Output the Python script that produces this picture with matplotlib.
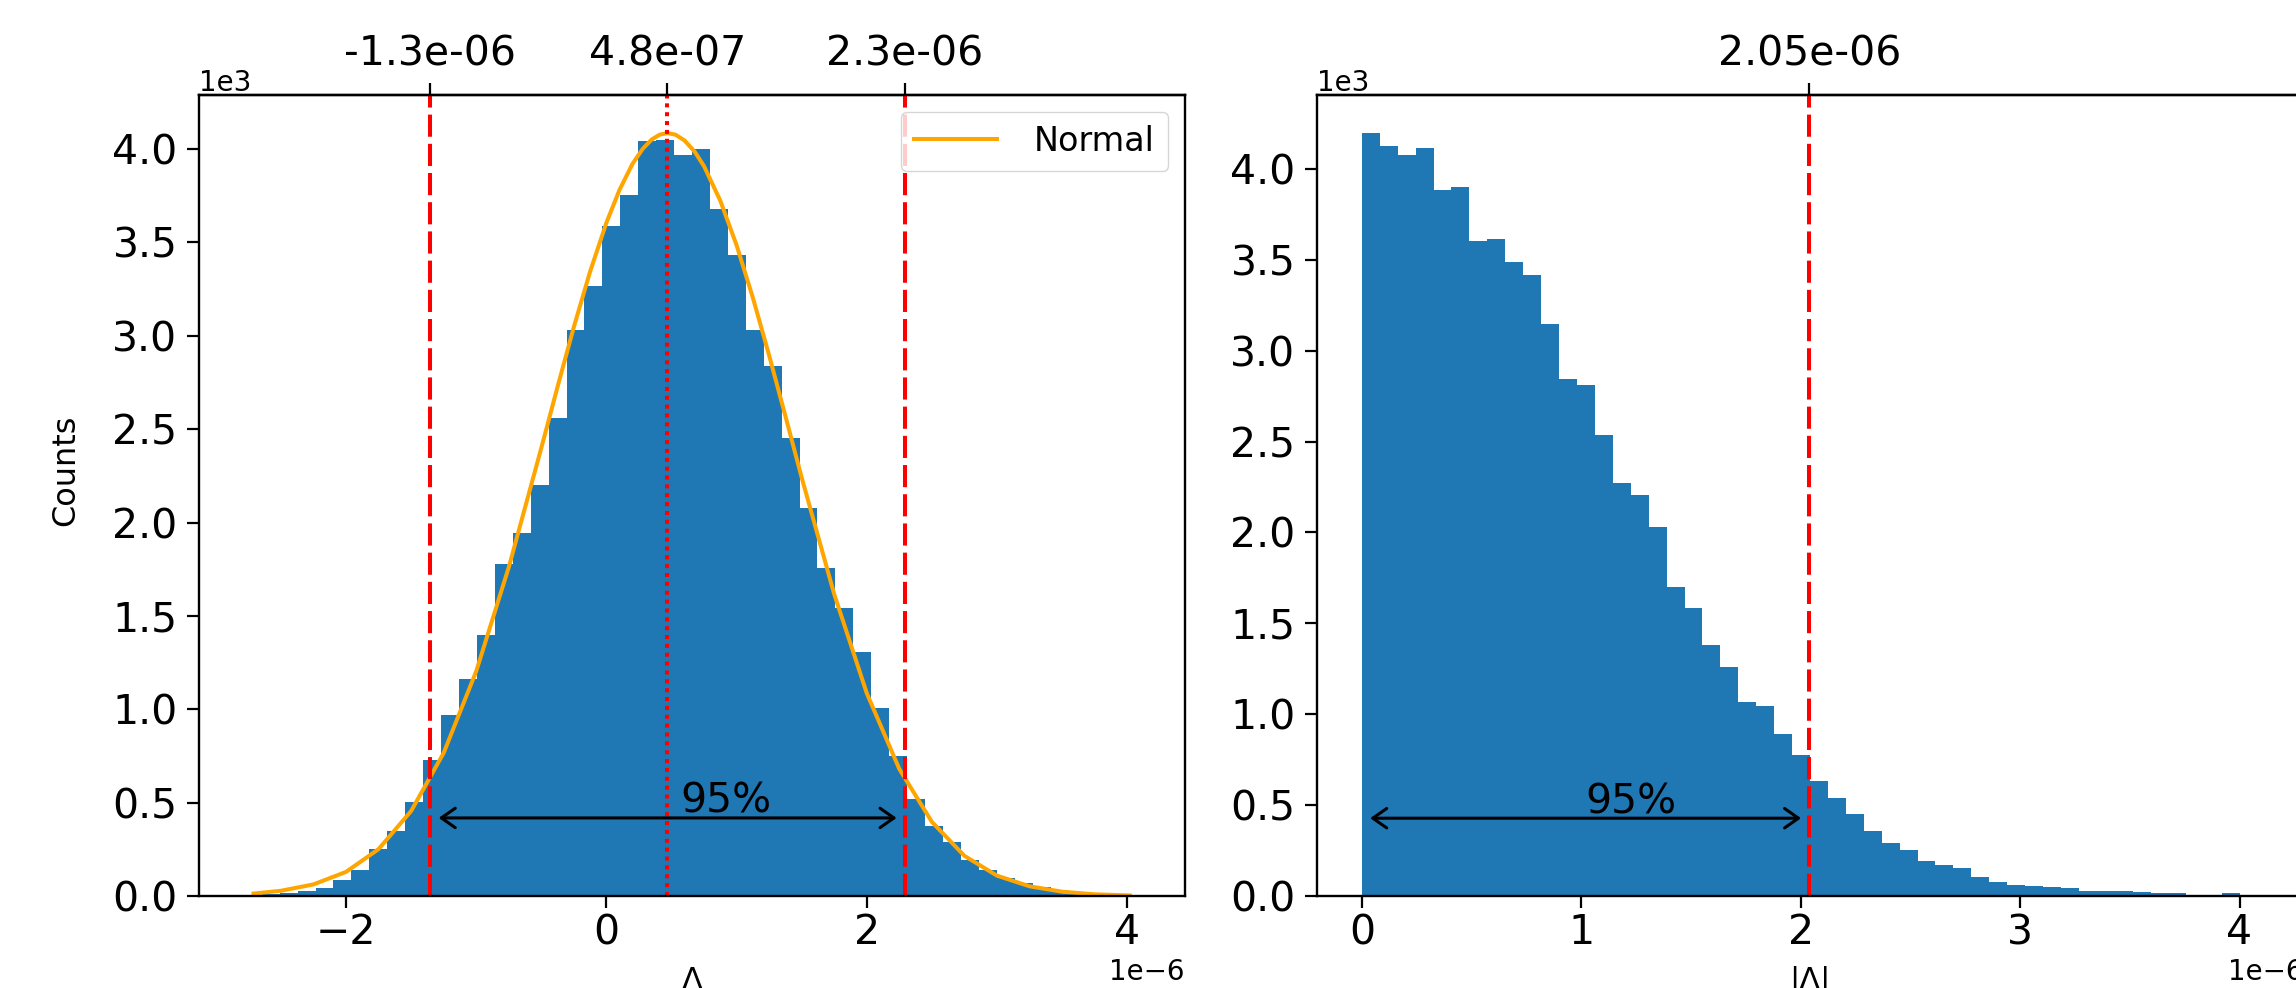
import numpy as np
import matplotlib
matplotlib.use("Agg")
import matplotlib.pyplot as plt
from matplotlib.ticker import MultipleLocator

# values are in units of 1e-6, scaled when plotting
scale = 1e-6

# signed Lambda histogram: 50 equal bins between lam_lo and lam_hi
lam_lo, lam_hi = -2.785, 4.10
lam_counts = [4, 9, 17, 28, 43, 85, 140, 251, 347, 505,
              726, 970, 1163, 1398, 1780, 1943, 2201, 2560, 3030, 3266,
              3589, 3755, 4045, 4050, 3970, 4000, 3680, 3432, 3030, 2837,
              2450, 2076, 1758, 1542, 1307, 1006, 748, 519, 375, 287,
              195, 140, 98, 70, 48, 30, 20, 12, 7, 4]

# orange "Normal" curve
normal_x = [-2.71, -2.5, -2.25, -2.0, -1.75, -1.5, -1.25, -1.0, -0.75, -0.5,
            -0.375, -0.25, -0.125, 0.0, 0.1, 0.2, 0.28, 0.35, 0.41, 0.47,
            0.53, 0.6, 0.68, 0.75, 0.875, 1.0, 1.125, 1.25, 1.375, 1.5,
            1.75, 2.0, 2.25, 2.5, 2.75, 3.0, 3.25, 3.5, 3.75, 4.02]
normal_y = [13, 28, 62, 129, 251, 455, 766, 1203, 1760, 2399,
            2727, 3047, 3344, 3605, 3780, 3920, 4002, 4052, 4077, 4085,
            4077, 4046, 3984, 3908, 3723, 3485, 3204, 2895, 2570, 2241,
            1616, 1086, 680, 397, 215, 109, 52, 23, 9, 3]

# interval lines (left plot)
lam_q = [-1.352, 0.469, 2.293]
lam_q_labels = ["-1.3e-06", "4.8e-07", "2.3e-06"]

# |Lambda| histogram: 50 equal bins between 0 and abs_hi
abs_hi = 4.085
abs_counts = [4197, 4126, 4075, 4117, 3882, 3899, 3601, 3612, 3487, 3416,
              3147, 2846, 2812, 2536, 2273, 2207, 2031, 1699, 1583, 1379,
              1259, 1066, 1044, 890, 777, 632, 541, 450, 357, 291,
              252, 195, 172, 152, 107, 78, 60, 53, 50, 45,
              30, 28, 26, 24, 17, 15, 6, 5, 14, 2]
abs_q = 2.04
abs_q_label = "2.05e-06"

tick_fs = 29.5
small_fs = 20
lw_axes = 1.7

plt.rcParams["axes.linewidth"] = lw_axes
plt.rcParams["xtick.major.size"] = 8.5
plt.rcParams["ytick.major.size"] = 8.5
plt.rcParams["xtick.major.width"] = 1.6
plt.rcParams["ytick.major.width"] = 1.6
plt.rcParams["xtick.labelsize"] = small_fs
plt.rcParams["ytick.labelsize"] = small_fs

fig = plt.figure(figsize=(22.96, 9.88), dpi=100)
ax1 = fig.add_axes([0.08667, 0.09312, 0.42944, 0.81073])
ax2 = fig.add_axes([0.57361, 0.09312, 0.42944, 0.81073])


def hist_from_counts(ax, lo, hi, counts):
    edges = np.linspace(lo, hi, len(counts) + 1) * scale
    centers = (edges[:-1] + edges[1:]) / 2
    ax.hist(centers, bins=edges, weights=counts, color="#1f77b4")


def style_axes(ax):
    ax.ticklabel_format(axis="y", style="sci", scilimits=(0, 0))
    ax.yaxis.set_major_locator(MultipleLocator(500))
    ax.tick_params(axis="both", labelsize=tick_fs)
    ax.tick_params(axis="y", pad=7)
    ax.tick_params(axis="x", pad=4)
    ax.yaxis.get_offset_text().set_fontsize(small_fs)
    ax.xaxis.get_offset_text().set_fontsize(small_fs)


def add_top_ticks(ax, pos, labels):
    top = ax.secondary_xaxis("top")
    top.set_xticks([p * scale for p in pos], labels=labels)
    top.tick_params(labelsize=tick_fs, pad=6, length=8.5, width=1.6)


def add_arrow(ax, x0, x1, y, tx, ty):
    ax.annotate("", xy=(x0 * scale, y), xytext=(x1 * scale, y),
                arrowprops=dict(arrowstyle="<->,head_length=0.4,head_width=0.28",
                                color="black", lw=2.2, shrinkA=6, shrinkB=6,
                                mutation_scale=25))
    ax.text(tx * scale, ty, "95%", fontsize=tick_fs, ha="left", va="baseline")


# left: Lambda
hist_from_counts(ax1, lam_lo, lam_hi, lam_counts)
ax1.plot(np.array(normal_x) * scale, normal_y, color="orange", lw=2.9, label="Normal")
ax1.axvline(lam_q[0] * scale, color="red", ls="--", lw=2.9, dashes=(5.5, 1.75))
ax1.axvline(lam_q[1] * scale, color="red", ls=":", lw=2.9, dashes=(1.0, 1.2))
ax1.axvline(lam_q[2] * scale, color="red", ls="--", lw=2.9, dashes=(5.5, 1.75))
ax1.xaxis.set_major_locator(MultipleLocator(2 * scale))
style_axes(ax1)
add_top_ticks(ax1, lam_q, lam_q_labels)
add_arrow(ax1, lam_q[0], lam_q[2], 418, 0.57, 445)
ax1.set_ylabel("Counts", fontsize=23)
ax1.yaxis.set_label_coords(-0.119, 0.532)
ax1.set_xlabel("Λ", fontsize=22, labelpad=9)
ax1.legend(loc="upper right", fontsize=24, handlelength=2.5, handletextpad=1.1)

# right: |Lambda|
hist_from_counts(ax2, 0, abs_hi, abs_counts)
ax2.axvline(abs_q * scale, color="red", ls="--", lw=2.9, dashes=(5.5, 1.75))
ax2.xaxis.set_major_locator(MultipleLocator(1 * scale))
style_axes(ax2)
add_top_ticks(ax2, [abs_q], [abs_q_label])
add_arrow(ax2, 0.0, abs_q, 428, 1.02, 456)
ax2.set_xlabel("|Λ|", fontsize=22, labelpad=9)

fig.savefig("out.png", dpi=100)
